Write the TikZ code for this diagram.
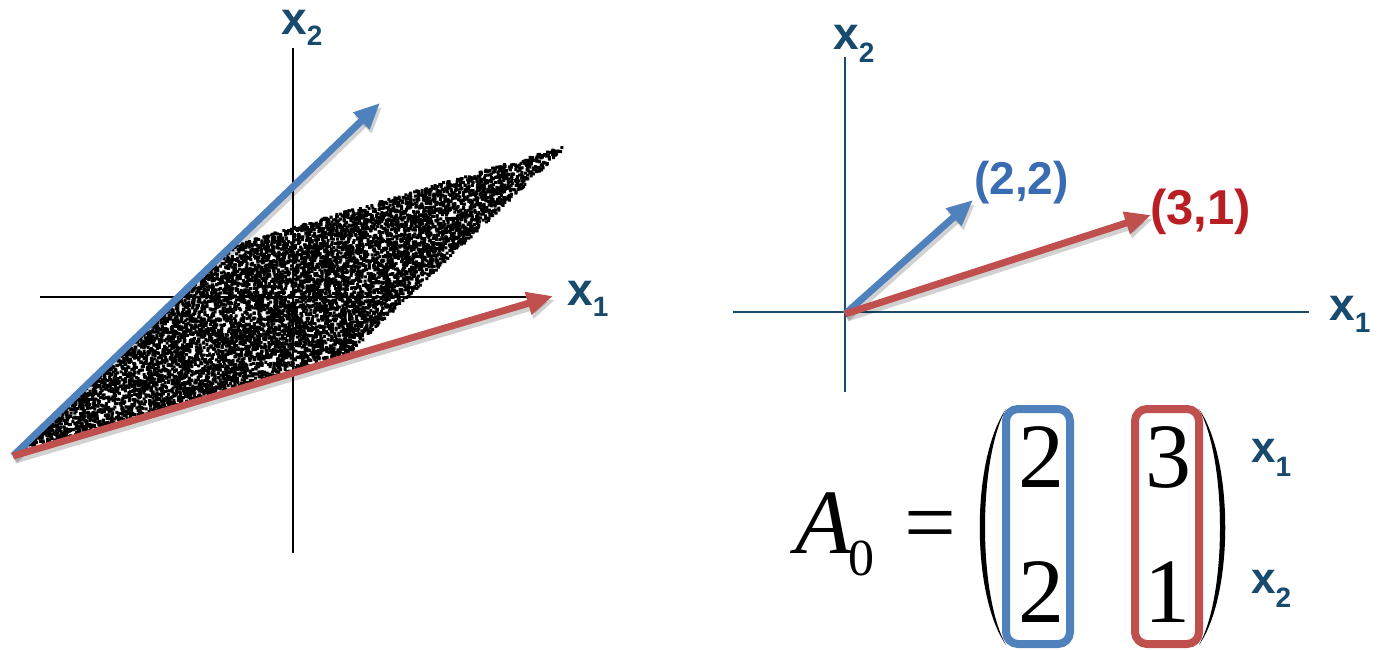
\documentclass[tikz,border=0pt]{standalone}
\usepackage{fontspec}
\setmainfont{Liberation Serif}
\newfontfamily\labfont{Liberation Sans Bold}
\usetikzlibrary{arrows.meta}
\definecolor{axisblue}{RGB}{24,74,110}
\definecolor{vblue}{RGB}{79,129,189}
\definecolor{vred}{RGB}{192,80,77}
\definecolor{tblue}{RGB}{58,108,178}
\definecolor{tred}{RGB}{185,30,35}
\newcommand\axlab[3]{{\labfont\fontsize{#3}{#3}\selectfont x\raisebox{-#2pt}{\fontsize{28}{28}\selectfont #1}}}
\begin{document}
\begin{tikzpicture}[x=1pt,y=-1pt,
  lab/.style={inner sep=0pt, text=axisblue, anchor=base west},
  vec/.style={line width=7pt, -{Triangle[length=26pt,width=22pt]}},
  vecshadow/.style={line width=7pt, draw=black, opacity=0.18, -{Triangle[length=26pt,width=22pt]}},
  mnum/.style={inner sep=0pt, anchor=base, font=\fontsize{92}{92}\selectfont},
  colbox/.style={draw=#1, line width=8pt, rounded corners=12pt, minimum width=64pt, minimum height=235pt, inner sep=0pt}
]
\useasboundingbox (0,0) rectangle (1377,650);

% ---------------- left panel ----------------
\coordinate (LxA) at (40,297);
\coordinate (LxB) at (545,297);
\coordinate (LyA) at (293,48);
\coordinate (LyB) at (293,553);
\draw[black, line width=1.2pt] (LxA) -- (LxB);
\draw[black, line width=1.2pt] (LyA) -- (LyB);

% scatter (parallelogram image of unit square)
\pgfmathsetseed{12345}
\foreach \k in {1,...,9}{
  \fill[black] \foreach \i [evaluate=\i as \a using rnd, evaluate=\i as \b using rnd] in {1,...,1000}
    { ({13+222*\a+331*\b},{454-211*\a-99*\b}) rectangle ++(3,3) };
}

\coordinate (LO) at (13,456);
\coordinate (LB) at (380,103);
\coordinate (LR) at (553,296);
\draw[vecshadow] ([shift={(2,4)}]LO) -- ([shift={(2,4)}]LB);
\draw[vec, vblue] (LO) -- (LB);
\draw[vecshadow] ([shift={(2,4)}]LO) -- ([shift={(2,4)}]LR);
\draw[vec, vred] (LO) -- (LR);

\node[lab] (lx2) at (281,35) {\axlab{2}{11}{46}};
\node[lab] (lx1) at (567,305) {\axlab{1}{11}{46}};

% ---------------- right panel ----------------
\coordinate (RxA) at (733,312);
\coordinate (RxB) at (1309,312);
\coordinate (RyA) at (845,57);
\coordinate (RyB) at (845,392);
\draw[axisblue, line width=2pt] (RxA) -- (RxB);
\draw[axisblue, line width=2pt] (RyA) -- (RyB);

\coordinate (RO) at (845,314);
\coordinate (RB) at (973,200);
\coordinate (RR) at (1151,215);
\draw[vecshadow] ([shift={(2,4)}]RO) -- ([shift={(2,4)}]RB);
\draw[vec, vblue] (RO) -- (RB);
\draw[vecshadow] ([shift={(2,4)}]RO) -- ([shift={(2,4)}]RR);
\draw[vec, vred] (RO) -- (RR);

\node[lab] (rx2) at (833,50) {\axlab{2}{13}{46}};
\node[lab] (rx1) at (1329,320) {\axlab{1}{12}{46}};

\node[inner sep=0pt, anchor=base west, text=tblue] (t22) at (974,195)
  {\labfont\fontsize{46}{46}\selectfont (2,2)};
\node[inner sep=0pt, anchor=base west, text=tred] (t31) at (1150,225)
  {\labfont\fontsize{49}{49}\selectfont (3,1)};

% ---------------- matrix ----------------
\node[inner sep=0pt, anchor=base west] (A) at (795,553)
  {\fontsize{92}{92}\selectfont\itshape A};
\node[inner sep=0pt, anchor=base west] (A0) at (848,575)
  {\fontsize{52}{52}\selectfont 0};
\node[inner sep=0pt, anchor=base] (eq) at (930,553)
  {\fontsize{92}{92}\selectfont =};

% parentheses
\fill[black] (1006,409) .. controls (971,460) and (971,595) .. (1006,645)
  .. controls (978,595) and (978,460) .. (1006,409) -- cycle;
\fill[black] (1199,409) .. controls (1234,460) and (1234,595) .. (1199,645)
  .. controls (1227,595) and (1227,460) .. (1199,409) -- cycle;

\node[colbox=vblue] (bcol) at (1038,526.5) {};
\node[colbox=vred] (rcol) at (1167,526.5) {};

\node[mnum] (m11) at (1041,487) {2};
\node[mnum] (m21) at (1041,622) {2};
\node[mnum] (m12) at (1168,487) {3};
\node[mnum] (m22) at (1167,622) {1};

\node[lab] (mx1) at (1251,462) {\axlab{1}{14}{44}};
\node[lab] (mx2) at (1251,593) {\axlab{2}{14}{44}};
\end{tikzpicture}
\end{document}
